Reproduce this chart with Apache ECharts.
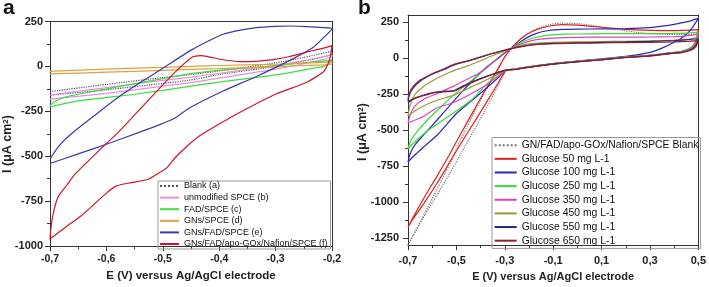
<!DOCTYPE html>
<html><head><meta charset="utf-8">
<script src="https://cdn.jsdelivr.net/npm/echarts@6/dist/echarts.min.js"></script>
<style>html,body{margin:0;padding:0;background:#fff}#c{width:709px;height:287px}</style>
</head><body><div id="c"></div>
<script>
// ---------- Panel a data: [E (V), I (uA cm-2)] ----------
const aNames = ['Blank (a)', 'unmodified SPCE (b)', 'FAD/SPCE (c)', 'GNs/SPCE (d)', 'GNs/FAD/SPCE (e)', 'GNs/FAD/apo-GOx/Nafion/SPCE (f)'];
const aBlankFwd = [[-0.7,-140],[-0.6,-100],[-0.5,-62],[-0.45,-45],[-0.4,-25],[-0.3,20],[-0.25,50],[-0.2,85]];
const aBlankRev = [[-0.2,70],[-0.25,30],[-0.3,0],[-0.4,-45],[-0.45,-75],[-0.5,-95],[-0.6,-130],[-0.7,-160]];
const aUnmodFwd = [[-0.7,-160],[-0.6,-118],[-0.5,-78],[-0.45,-60],[-0.4,-38],[-0.3,5],[-0.25,32],[-0.2,65]];
const aUnmodRev = [[-0.2,55],[-0.25,15],[-0.3,-15],[-0.4,-65],[-0.45,-90],[-0.5,-110],[-0.6,-150],[-0.7,-182]];
const aFadFwd = [[-0.7,-218],[-0.69,-192],[-0.67,-168],[-0.63,-143],[-0.55,-96],[-0.5,-68],[-0.45,-40],[-0.4,-22],[-0.3,5],[-0.25,20],[-0.2,35]];
const aFadRev = [[-0.2,35],[-0.205,15],[-0.215,0],[-0.23,-8],[-0.3,-47],[-0.4,-87],[-0.45,-110],[-0.55,-155],[-0.65,-192],[-0.7,-226]];
const aGnsFwd = [[-0.7,-28],[-0.6,-15],[-0.5,-5],[-0.45,0],[-0.4,5],[-0.3,12],[-0.25,18],[-0.2,25]];
const aGnsRev = [[-0.2,12],[-0.25,5],[-0.3,-2],[-0.4,-12],[-0.45,-16],[-0.5,-22],[-0.6,-32],[-0.7,-42]];
const aGnsFadFwd = [[-0.7,-515],[-0.683,-438],[-0.659,-366],[-0.6,-222],[-0.576,-165],[-0.54,-90],[-0.5,-10],[-0.449,92],[-0.42,140],[-0.393,179],[-0.36,203],[-0.334,216],[-0.3,223],[-0.274,225],[-0.245,222],[-0.215,216],[-0.2,210]];
const aGnsFadRev = [[-0.2,210],[-0.215,160],[-0.233,107],[-0.274,35],[-0.334,-56],[-0.393,-137],[-0.452,-230],[-0.48,-290],[-0.509,-328],[-0.541,-366],[-0.6,-433],[-0.65,-487],[-0.7,-540]];
const aGoxFwd = [[-0.7,-965],[-0.699,-918],[-0.695,-830],[-0.686,-728],[-0.67,-660],[-0.656,-601],[-0.63,-520],[-0.6,-429],[-0.58,-370],[-0.55,-270],[-0.505,-119],[-0.475,-22],[-0.449,50],[-0.434,60],[-0.42,55],[-0.393,37],[-0.363,27],[-0.33,30],[-0.304,38],[-0.275,55],[-0.245,80],[-0.22,98],[-0.2,116]];
const aGoxRev = [[-0.2,116],[-0.202,70],[-0.205,30],[-0.215,-30],[-0.245,-88],[-0.3,-155],[-0.363,-255],[-0.404,-328],[-0.434,-385],[-0.458,-447],[-0.479,-511],[-0.493,-565],[-0.503,-585],[-0.526,-628],[-0.556,-647],[-0.582,-665],[-0.6,-705],[-0.644,-830],[-0.67,-889],[-0.7,-960]];

// ---------- Panel b data ----------
const bNames = ['GN/FAD/apo-GOx/Nafion/SPCE Blank', 'Glucose 50 mg L-1', 'Glucose 100 mg L-1', 'Glucose 250 mg L-1', 'Glucose 350 mg L-1', 'Glucose 450 mg L-1', 'Glucose 550 mg L-1', 'Glucose 650 mg L-1'];
const bBlankFwd = [[-0.7,-1300],[-0.68,-1235],[-0.63,-1075],[-0.58,-910],[-0.53,-745],[-0.48,-560],[-0.43,-390],[-0.38,-230],[-0.33,-85],[-0.3,5],[-0.274,66],[-0.23,140],[-0.18,195],[-0.12,232],[-0.07,243],[0,240],[0.05,230],[0.1,215],[0.2,190],[0.25,178],[0.3,170],[0.4,165],[0.45,165],[0.5,170]];
const bBlankRev = [[0.5,170],[0.49,110],[0.47,70],[0.43,45],[0.384,37],[0.3,20],[0.178,5],[0.1,-8],[0,-22],[-0.1,-38],[-0.165,-52],[-0.22,-65],[-0.26,-76],[-0.295,-86],[-0.33,-200],[-0.38,-360],[-0.43,-510],[-0.48,-660],[-0.53,-810],[-0.58,-950],[-0.63,-1090],[-0.68,-1240],[-0.7,-1300]];
const b50Fwd = [[-0.7,-1176],[-0.68,-1110],[-0.63,-960],[-0.58,-820],[-0.53,-675],[-0.48,-520],[-0.43,-370],[-0.38,-220],[-0.33,-80],[-0.3,10],[-0.274,66],[-0.23,140],[-0.18,190],[-0.12,222],[-0.06,233],[0,230],[0.1,215],[0.2,200],[0.3,193],[0.4,192],[0.5,198]];
const b50Rev = [[0.5,198],[0.49,120],[0.47,72],[0.43,46],[0.384,37],[0.3,20],[0.178,5],[0.1,-8],[0,-22],[-0.1,-38],[-0.165,-52],[-0.22,-65],[-0.26,-76],[-0.295,-86],[-0.33,-180],[-0.38,-320],[-0.43,-455],[-0.48,-590],[-0.53,-730],[-0.58,-870],[-0.63,-1000],[-0.68,-1120],[-0.7,-1176]];
const b100Fwd = [[-0.7,-722],[-0.69,-660],[-0.67,-600],[-0.631,-525],[-0.58,-430],[-0.53,-335],[-0.48,-240],[-0.43,-150],[-0.38,-70],[-0.33,-5],[-0.3,35],[-0.274,66],[-0.23,120],[-0.18,165],[-0.12,192],[-0.05,200],[0,202],[0.1,203],[0.2,205],[0.3,212],[0.35,222],[0.4,235],[0.45,252],[0.5,277]];
const b100Rev = [[0.5,277],[0.47,200],[0.44,150],[0.4,110],[0.35,70],[0.3,40],[0.2,12],[0.1,-5],[0,-20],[-0.1,-38],[-0.165,-52],[-0.22,-65],[-0.26,-76],[-0.295,-86],[-0.33,-140],[-0.38,-215],[-0.44,-300],[-0.5,-385],[-0.577,-531],[-0.63,-610],[-0.67,-670],[-0.7,-722]];
const b250Fwd = [[-0.7,-630],[-0.69,-580],[-0.672,-531],[-0.62,-430],[-0.549,-315],[-0.5,-240],[-0.439,-157],[-0.39,-90],[-0.343,-20],[-0.3,40],[-0.274,66],[-0.23,110],[-0.18,140],[-0.12,160],[-0.05,167],[0,168],[0.1,170],[0.2,170],[0.3,170],[0.4,172],[0.45,174],[0.5,180]];
const b250Rev = [[0.5,180],[0.49,120],[0.47,75],[0.43,48],[0.384,37],[0.3,20],[0.178,5],[0.1,-8],[0,-22],[-0.1,-38],[-0.165,-52],[-0.22,-65],[-0.26,-76],[-0.295,-86],[-0.33,-111],[-0.385,-200],[-0.439,-293],[-0.535,-407],[-0.631,-520],[-0.68,-595],[-0.7,-630]];
const b350Fwd = [[-0.7,-450],[-0.69,-390],[-0.67,-330],[-0.631,-282],[-0.57,-240],[-0.508,-191],[-0.46,-150],[-0.412,-111],[-0.37,-60],[-0.343,-20],[-0.3,40],[-0.274,66],[-0.23,100],[-0.18,125],[-0.12,138],[-0.05,143],[0,145],[0.1,146],[0.2,146],[0.3,147],[0.4,150],[0.45,155],[0.5,165]];
const b350Rev = [[0.5,165],[0.49,110],[0.47,70],[0.43,45],[0.384,36],[0.3,19],[0.178,4],[0.1,-9],[0,-23],[-0.1,-39],[-0.165,-53],[-0.22,-66],[-0.26,-77],[-0.295,-87],[-0.316,-111],[-0.38,-190],[-0.439,-247],[-0.5,-300],[-0.535,-322],[-0.58,-345],[-0.631,-400],[-0.67,-430],[-0.7,-450]];
const b450Fwd = [[-0.7,-400],[-0.69,-320],[-0.67,-250],[-0.63,-190],[-0.58,-140],[-0.53,-100],[-0.5,-80],[-0.45,-52],[-0.4,-18],[-0.35,18],[-0.3,50],[-0.274,66],[-0.23,90],[-0.18,103],[-0.1,110],[0,113],[0.1,115],[0.2,117],[0.3,120],[0.4,125],[0.45,130],[0.5,145]];
const b450Rev = [[0.5,145],[0.49,100],[0.47,65],[0.43,42],[0.384,34],[0.3,17],[0.178,3],[0.1,-10],[0,-24],[-0.1,-40],[-0.165,-54],[-0.22,-67],[-0.26,-78],[-0.295,-88],[-0.35,-130],[-0.4,-170],[-0.45,-210],[-0.5,-250],[-0.53,-268],[-0.56,-282],[-0.6,-305],[-0.65,-345],[-0.7,-400]];
const b550Fwd = [[-0.7,-300],[-0.695,-260],[-0.68,-210],[-0.65,-160],[-0.6,-112],[-0.55,-78],[-0.52,-55],[-0.5,-42],[-0.45,-20],[-0.4,6],[-0.35,32],[-0.3,55],[-0.274,66],[-0.23,82],[-0.18,95],[-0.1,103],[0,107],[0.1,110],[0.2,113],[0.3,117],[0.4,122],[0.45,128],[0.5,135]];
const b550Rev = [[0.5,135],[0.49,90],[0.47,60],[0.43,40],[0.384,33],[0.3,16],[0.178,2],[0.1,-11],[0,-25],[-0.1,-41],[-0.165,-55],[-0.22,-68],[-0.26,-79],[-0.29,-80],[-0.33,-100],[-0.371,-123],[-0.439,-168],[-0.48,-200],[-0.508,-225],[-0.54,-230],[-0.577,-234],[-0.61,-245],[-0.645,-262],[-0.68,-285],[-0.7,-310]];
const b650Fwd = [[-0.7,-285],[-0.695,-245],[-0.68,-200],[-0.65,-152],[-0.6,-108],[-0.55,-74],[-0.52,-50],[-0.5,-38],[-0.45,-17],[-0.4,9],[-0.35,34],[-0.3,56],[-0.274,66],[-0.23,80],[-0.18,92],[-0.1,100],[0,104],[0.1,106],[0.2,108],[0.3,110],[0.4,113],[0.45,116],[0.5,122]];
const b650Rev = [[0.5,122],[0.49,80],[0.47,55],[0.43,38],[0.384,32],[0.3,15],[0.178,1],[0.1,-12],[0,-26],[-0.1,-42],[-0.165,-56],[-0.22,-69],[-0.26,-80],[-0.29,-82],[-0.33,-102],[-0.371,-126],[-0.439,-172],[-0.48,-205],[-0.508,-228],[-0.54,-233],[-0.577,-237],[-0.61,-248],[-0.645,-265],[-0.68,-285],[-0.7,-300]];

// ---------- tick values ----------
const bXTicks = [-0.7,-0.5,-0.3,-0.1,0.1,0.3,0.5];
const bXMinor = [-0.6,-0.4,-0.2,0,0.2,0.4];
const bYTicks = [-1250,-1000,-750,-500,-250,0,250];
const bYMinor = [-1125,-875,-625,-375,-125,125];

// ---------- styles ----------
const aColors = ['#555555','#e48ee4','#3fdc3f','#e0a040','#3a3aa8','#d0142c'];
const bColors = ['#777777','#e02020','#2828c0','#33e033','#e040c0','#9a9a3a','#1f2a80','#902030'];
const FONT = 'Liberation Sans, Arial, sans-serif';
const AX = '#333';
const fmtX = v => (Math.round(v*10)/10).toFixed(1).replace('.', ',');
const fmtY = v => String(Math.round(v));

const aData = [aBlankFwd.concat(aBlankRev), aUnmodFwd.concat(aUnmodRev), aFadFwd.concat(aFadRev), aGnsFwd.concat(aGnsRev), aGnsFadFwd.concat(aGnsFadRev), aGoxFwd.concat(aGoxRev)];
const bData = [bBlankFwd.concat(bBlankRev), b50Fwd.concat(b50Rev), b100Fwd.concat(b100Rev), b250Fwd.concat(b250Rev), b350Fwd.concat(b350Rev), b450Fwd.concat(b450Rev), b550Fwd.concat(b550Rev), b650Fwd.concat(b650Rev)];

function mk(name, data, color, xi, yi, dotted) {
  return {type:'line', name, data, xAxisIndex:xi, yAxisIndex:yi, symbol:'none', smooth:0.2,
    lineStyle:{color, width:1.2, type: dotted ? 'dotted' : 'solid'}, itemStyle:{color},
    emphasis:{disabled:true}, silent:true};
}
const series = [];
aNames.forEach((n,i) => series.push(mk(n, aData[i], aColors[i], 0, 0, i===0)));
bNames.forEach((n,i) => series.push(mk(n, bData[i], bColors[i], 3, 3, i===0)));

const lineS = {show:true, onZero:false, lineStyle:{color:AX, width:1}};
const hiddenLine = {show:false, onZero:false};
const noS = {show:false};
const lbl = (fmt, margin, size) => ({fontSize:size || 11, fontWeight:'bold', color:'#222', fontFamily:FONT, formatter:fmt, margin});

const xAxis = [
  {type:'value', gridIndex:0, position:'bottom', min:-0.7, max:-0.2, interval:0.1,
   axisLine:lineS, axisTick:{show:true, length:5, lineStyle:{color:AX}},
   minorTick:{show:true, splitNumber:2, length:3, lineStyle:{color:AX}},
   axisLabel:lbl(fmtX, 8, 10.5), splitLine:noS,
   name:'E (V) versus Ag/AgCl electrode', nameLocation:'middle', nameGap:21,
   nameTextStyle:{fontSize:11.5, fontWeight:'bold', color:'#222', fontFamily:FONT}},
  {type:'value', gridIndex:0, position:'top', min:-0.7, max:-0.2, axisLine:lineS, axisTick:noS, axisLabel:noS, splitLine:noS},
  {type:'value', gridIndex:1, position:'bottom', min:-0.7, max:0.5, axisLine:hiddenLine, axisTick:{show:true, length:3, customValues:bXMinor, lineStyle:{color:AX}}, axisLabel:noS, splitLine:noS},
  {type:'value', gridIndex:1, position:'bottom', min:-0.7, max:0.5,
   axisLine:lineS, axisTick:{show:true, length:5, customValues:bXTicks, lineStyle:{color:AX}},
   axisLabel:Object.assign(lbl(fmtX, 10), {customValues:bXTicks}), splitLine:noS,
   name:'E (V) versus Ag/AgCl electrode', nameLocation:'middle', nameGap:23,
   nameTextStyle:{fontSize:11, fontWeight:'bold', color:'#222', fontFamily:FONT}},
  {type:'value', gridIndex:1, position:'top', min:-0.7, max:0.5, axisLine:lineS, axisTick:noS, axisLabel:noS, splitLine:noS}
];
const yAxis = [
  {type:'value', gridIndex:0, position:'left', min:-1000, max:250, interval:250,
   axisLine:lineS, axisTick:{show:true, length:5, lineStyle:{color:AX}},
   minorTick:{show:true, splitNumber:2, length:3, lineStyle:{color:AX}},
   axisLabel:lbl(fmtY, 7), splitLine:noS},
  {type:'value', gridIndex:0, position:'right', min:-1000, max:250, axisLine:lineS, axisTick:noS, axisLabel:noS, splitLine:noS},
  {type:'value', gridIndex:1, position:'left', min:-1300, max:300, axisLine:hiddenLine, axisTick:{show:true, length:3, customValues:bYMinor, lineStyle:{color:AX}}, axisLabel:noS, splitLine:noS},
  {type:'value', gridIndex:1, position:'left', min:-1300, max:300,
   axisLine:lineS, axisTick:{show:true, length:5, customValues:bYTicks, lineStyle:{color:AX}},
   axisLabel:Object.assign(lbl(fmtY, 9), {customValues:bYTicks}), splitLine:noS},
  {type:'value', gridIndex:1, position:'right', min:-1300, max:300, axisLine:lineS, axisTick:noS, axisLabel:noS, splitLine:noS}
];

const yTitle = (x, y) => ({type:'text', x, y, rotation:Math.PI/2, silent:true,
  style:{text:'I (μA cm{sup|2})', fontSize:12.5, fontWeight:'bold', fontFamily:FONT, fill:'#222',
    align:'center', verticalAlign:'middle', rich:{sup:{fontSize:8, fontWeight:'bold', fontFamily:FONT, fill:'#222', verticalAlign:'top', padding:[0,0,4,0]}}}});

const option = {
  animation:false,
  backgroundColor:'#fff',
  grid:[
    {left:50, right:377, top:21.5, bottom:36},
    {left:408, right:8, top:15, bottom:37}
  ],
  xAxis, yAxis, series,
  legend:[
    {data:aNames, left:158, top:181, orient:'vertical', itemWidth:19, itemHeight:8, itemGap:2.6,
     padding:[0.5,3,0.5,1], borderColor:'#999', borderWidth:1, selectedMode:false,
     itemStyle:{opacity:0}, lineStyle:{width:2}, textStyle:{fontSize:9, fontFamily:FONT, color:'#111', lineHeight:9}},
    {data:bNames, left:492, top:137.5, orient:'vertical', itemWidth:22, itemHeight:10, itemGap:3.64,
     padding:[2.7,2,2.7,1.7], borderColor:'#999', borderWidth:1, selectedMode:false,
     itemStyle:{opacity:0}, lineStyle:{width:2}, textStyle:{fontSize:10.4, fontFamily:FONT, color:'#111', lineHeight:10}}
  ],
  graphic:[
    {type:'text', x:3, y:8, silent:true, style:{text:'a', fontSize:21, fontWeight:'bold', fontFamily:FONT, fill:'#111', verticalAlign:'middle'}},
    {type:'text', x:358, y:8, silent:true, style:{text:'b', fontSize:21, fontWeight:'bold', fontFamily:FONT, fill:'#111', verticalAlign:'middle'}},
    yTitle(8, 144),
    yTitle(363, 132)
  ]
};
const chart = echarts.init(document.getElementById('c'));
chart.setOption(option);
</script></body></html>
